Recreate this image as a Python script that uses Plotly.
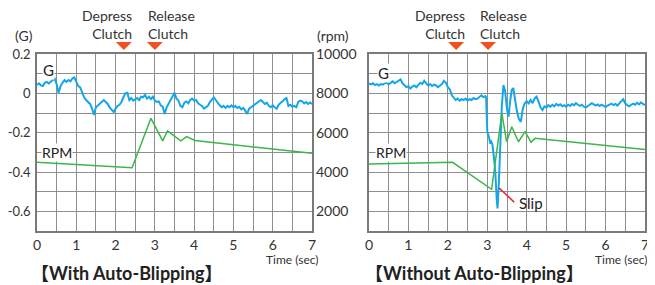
import plotly.graph_objects as go

# The page body keeps its default 8 px margin, so the figure is drawn 8 px
# smaller than the window and all reference pixel positions are shifted by it.
WIN_W, WIN_H = 655, 285
OFF = 8
W, H = WIN_W - OFF, WIN_H - OFF
STEP = 0.05

# ---------------- data ----------------
# Left panel: with auto-blipping, G sampled every 0.05 s from 0 to 7 s
left_g = [0.042, 0.051, 0.040, 0.037, 0.054, 0.058, 0.050, 0.061, 0.068, 0.075,
          0.047, 0.003, 0.037, 0.054, 0.068, 0.058, 0.068, 0.061, 0.075, 0.081,
          0.054, 0.037, 0.030, 0.000, -0.020, -0.034, -0.044, -0.054, -0.076, -0.110,
          -0.071, -0.061, -0.051, -0.044, -0.034, -0.044, -0.054, -0.071, -0.085, -0.095,
          -0.078, -0.064, -0.058, -0.044, -0.020, 0.000, 0.003, -0.034, -0.024, -0.037,
          -0.030, -0.024, -0.034, -0.017, -0.020, -0.008, -0.027, -0.017, -0.030, -0.017,
          -0.037, -0.044, -0.041, -0.061, -0.068, -0.105, -0.071, -0.054, -0.034, -0.014,
          0.003, -0.027, -0.037, -0.064, -0.071, -0.047, -0.041, -0.051, -0.034, -0.027,
          -0.037, -0.034, -0.051, -0.058, -0.064, -0.078, -0.071, -0.064, -0.044, -0.034,
          -0.020, -0.034, -0.051, -0.061, -0.071, -0.064, -0.074, -0.064, -0.071, -0.061,
          -0.071, -0.064, -0.074, -0.068, -0.081, -0.074, -0.088, -0.105, -0.078, -0.071,
          -0.064, -0.054, -0.051, -0.041, -0.034, -0.044, -0.054, -0.047, -0.064, -0.071,
          -0.061, -0.071, -0.078, -0.058, -0.047, -0.041, -0.030, -0.024, -0.064, -0.058,
          -0.068, -0.064, -0.071, -0.044, -0.037, -0.041, -0.051, -0.044, -0.054, -0.047,
          -0.054]
left_t = [round(i * STEP, 2) for i in range(len(left_g))]

left_rpm_t = [0, 2.42, 2.90, 3.20, 3.32, 3.66, 3.81, 4.02, 7.0]
left_rpm = [4490, 4220, 6730, 5580, 6090, 5580, 5800, 5600, 4950]

# Right panel: without auto-blipping
right_g_pre = [0.051, 0.046, 0.051, 0.042, 0.047, 0.040, 0.047, 0.044, 0.051, 0.054,
               0.046, 0.056, 0.061, 0.051, 0.058, 0.068, 0.071, 0.051, 0.040, 0.031,
               0.037, 0.024, 0.034, 0.040, 0.031, 0.044, 0.054, 0.047, 0.064, 0.051,
               0.040, 0.047, 0.037, 0.044, 0.040, 0.031, 0.037, 0.047, 0.064, 0.054,
               0.031, 0.020, -0.010, -0.024, -0.034, -0.027, -0.037, -0.030, -0.034, -0.027,
               -0.037, -0.030, -0.034, -0.024, -0.030, -0.027, -0.017, -0.010, -0.020, -0.014]
right_t_event = [2.97, 3.00, 3.04, 3.07, 3.10, 3.13, 3.16, 3.20, 3.24, 3.26,
                 3.29, 3.32, 3.37, 3.41, 3.45, 3.50, 3.54, 3.58, 3.62, 3.66,
                 3.70, 3.75, 3.80, 3.85, 3.90, 3.95, 4.00]
right_g_event = [-0.020, -0.195, -0.220, -0.250, -0.245, -0.260, -0.310, -0.390, -0.540, -0.585,
                 -0.470, -0.290, -0.060, 0.042, 0.015, -0.080, -0.119, -0.040, 0.017, 0.027,
                 -0.030, -0.090, -0.130, -0.145, -0.080, -0.050, -0.040]
right_g_post = [-0.051, -0.034, -0.050, -0.027, -0.017, -0.042, -0.071, -0.085, -0.066, -0.072,
                -0.060, -0.068, -0.058, -0.066, -0.054, -0.062, -0.056, -0.066, -0.060, -0.068,
                -0.058, -0.064, -0.054, -0.060, -0.050, -0.058, -0.064, -0.058, -0.068, -0.072,
                -0.064, -0.058, -0.050, -0.056, -0.062, -0.056, -0.064, -0.058, -0.066, -0.070,
                -0.062, -0.058, -0.052, -0.060, -0.054, -0.062, -0.048, -0.040, -0.030, -0.052,
                -0.060, -0.066, -0.058, -0.052, -0.058, -0.048, -0.056, -0.046, -0.054, -0.060]
right_t = ([round(i * STEP, 2) for i in range(len(right_g_pre))] + right_t_event +
           [round(4.05 + i * STEP, 2) for i in range(len(right_g_post))])
right_g = right_g_pre + right_g_event + right_g_post

right_rpm_t = [0, 2.12, 3.11, 3.37, 3.49, 3.62, 3.79, 3.96, 4.11, 4.21, 7.0]
right_rpm = [4410, 4490, 3120, 6980, 5540, 6300, 5540, 6050, 5510, 5710, 5150]

clutch_left = [2.21, 3.00]     # depress, release (s)
clutch_right = [2.21, 3.02]
slip_t = [3.30, 3.68]
slip_g = [-0.481, -0.553]

time_ticks = [0, 1, 2, 3, 4, 5, 6, 7]
g_ticks = [-0.6, -0.4, -0.2, 0, 0.2]
g_labels = ["-0.6", "-0.4", "-0.2", "0", "0.2"]
rpm_ticks = [2000, 4000, 6000, 8000, 10000]
rpm_labels = ["2000", "4000", "6000", "8000", "10000"]
titles = ["【With Auto-Blipping】", "【Without Auto-Blipping】"]

# ---------------- styling ----------------
BLUE = "#14A6E6"
GREEN = "#3DB54A"
ORANGE = "#F2501F"
RED = "#E8202A"
GRID = "#8E8E8E"
TXT = "#333333"
FONT = "Lato, Noto Sans CJK JP, sans-serif"

def px_x(p):
    return (p - OFF) / W

def px_y(p):
    return 1 - (p - OFF) / H

Y_DOM = [px_y(231), px_y(54)]
XL_DOM = [px_x(37), px_x(312)]
XR_DOM = [px_x(369), px_x(645)]

fig = go.Figure()
fig.add_trace(go.Scatter(x=left_rpm_t, y=left_rpm, xaxis="x", yaxis="y2", mode="lines",
                         line=dict(color=GREEN, width=1.5), hoverinfo="skip"))
fig.add_trace(go.Scatter(x=left_t, y=left_g, xaxis="x", yaxis="y", mode="lines",
                         line=dict(color=BLUE, width=2), hoverinfo="skip"))
fig.add_trace(go.Scatter(x=right_rpm_t, y=right_rpm, xaxis="x2", yaxis="y4", mode="lines",
                         line=dict(color=GREEN, width=1.5), hoverinfo="skip"))
fig.add_trace(go.Scatter(x=right_t, y=right_g, xaxis="x2", yaxis="y3", mode="lines",
                         line=dict(color=BLUE, width=2), hoverinfo="skip"))
fig.add_trace(go.Scatter(x=slip_t, y=slip_g, xaxis="x2", yaxis="y3", mode="lines",
                         line=dict(color=RED, width=1.5), hoverinfo="skip"))

xcommon = dict(range=[0, 7], tickmode="array", tickvals=time_ticks, ticks="",
               showgrid=True, gridcolor=GRID, gridwidth=1,
               minor=dict(tickmode="linear", tick0=0, dtick=0.5, showgrid=True,
                          gridcolor=GRID, gridwidth=1, ticks=""),
               showline=True, mirror=True, linecolor="#7a7a7a", linewidth=1.5,
               zeroline=False, tickfont=dict(size=14, color=TXT, family=FONT),
               automargin=False, fixedrange=True)
gcommon = dict(range=[-0.7, 0.2], domain=Y_DOM, tickmode="array", tickvals=g_ticks,
               ticktext=g_labels, ticks="", showgrid=True, gridcolor=GRID, gridwidth=1,
               minor=dict(tickmode="linear", tick0=0, dtick=0.1, showgrid=True,
                          gridcolor=GRID, gridwidth=1, ticks=""),
               showline=True, mirror=True, linecolor="#7a7a7a", linewidth=1.5,
               zeroline=False, tickfont=dict(size=13, color=TXT, family=FONT),
               ticklabelstandoff=2, automargin=False, fixedrange=True)
rcommon = dict(range=[1000, 10000], side="right", tickmode="array", tickvals=rpm_ticks,
               ticktext=rpm_labels, ticks="", showgrid=False, showline=False,
               zeroline=False, tickfont=dict(size=14, color=TXT, family=FONT),
               ticklabelstandoff=3, automargin=False, fixedrange=True)

fig.update_layout(
    width=W, height=H, margin=dict(l=0, r=0, t=0, b=0, autoexpand=False),
    paper_bgcolor="white", plot_bgcolor="white", showlegend=False,
    font=dict(family=FONT, color=TXT),
    xaxis=dict(domain=XL_DOM, anchor="y", **xcommon),
    xaxis2=dict(domain=XR_DOM, anchor="y3", **xcommon),
    yaxis=dict(anchor="x", **gcommon),
    yaxis2=dict(anchor="x", overlaying="y", **rcommon),
    yaxis3=dict(anchor="x2", **{**gcommon, "showticklabels": False}),
    yaxis4=dict(anchor="x2", overlaying="y3", **{**rcommon, "showticklabels": False}),
)

ann = []
shapes = []
top = px_y(54)
for xr, yr, clutch, dep_x, rel_x, g_pos, rpm_pos in [
        ("x", "y", clutch_left, 2.47, 2.77, (0.28, 0.119), (0.51, -0.303)),
        ("x2", "y3", clutch_right, 2.49, 2.77, (0.36, 0.103), (0.55, -0.303))]:
    for t in clutch:
        shapes.append(dict(type="path", xref=xr, yref="paper", xsizemode="pixel",
                           ysizemode="pixel", xanchor=t, yanchor=top,
                           path="M-8,12 L8,12 L0,4 Z", fillcolor=ORANGE,
                           line=dict(width=0)))
    ann.append(dict(xref=xr, yref="paper", x=dep_x, y=px_y(25), xanchor="right",
                    yanchor="middle", align="right", text="Depress<br>Clutch",
                    showarrow=False, font=dict(size=14, color=TXT)))
    ann.append(dict(xref=xr, yref="paper", x=rel_x, y=px_y(25), xanchor="left",
                    yanchor="middle", align="left", text="Release<br>Clutch",
                    showarrow=False, font=dict(size=14, color=TXT)))
    ann.append(dict(xref=xr, yref=yr, x=g_pos[0], y=g_pos[1], text="G",
                    xanchor="center", yanchor="middle",
                    showarrow=False, bgcolor="white", borderpad=0,
                    font=dict(size=15, color="#222")))
    ann.append(dict(xref=xr, yref=yr, x=rpm_pos[0], y=rpm_pos[1], text="RPM",
                    xanchor="center", yanchor="middle",
                    showarrow=False, bgcolor="white", borderpad=0,
                    font=dict(size=14, color="#222")))

ann.append(dict(xref="x2", yref="y3", x=3.76, y=-0.557, xanchor="left", yanchor="middle",
                text="Slip", showarrow=False, font=dict(size=15, color="#222")))
ann.append(dict(xref="paper", yref="paper", x=px_x(24), y=px_y(36), text="(G)",
                xanchor="center", yanchor="middle",
                showarrow=False, font=dict(size=14, color=TXT)))
ann.append(dict(xref="paper", yref="paper", x=px_x(333), y=px_y(36), text="(rpm)",
                xanchor="center", yanchor="middle",
                showarrow=False, font=dict(size=14, color=TXT)))
for cx in [292, 621]:
    ann.append(dict(xref="paper", yref="paper", x=px_x(cx), y=px_y(259),
                    xanchor="center", yanchor="middle",
                    text="Time (sec)", showarrow=False, font=dict(size=12, color=TXT)))
for cx, title in zip([127, 474], titles):
    ann.append(dict(xref="paper", yref="paper", x=px_x(cx), y=px_y(273),
                    xanchor="center", yanchor="middle", borderpad=0,
                    text="<b>" + title + "</b>", showarrow=False,
                    font=dict(size=18, color="#222")))

fig.update_layout(annotations=ann, shapes=shapes)
fig.write_html("out.html")
